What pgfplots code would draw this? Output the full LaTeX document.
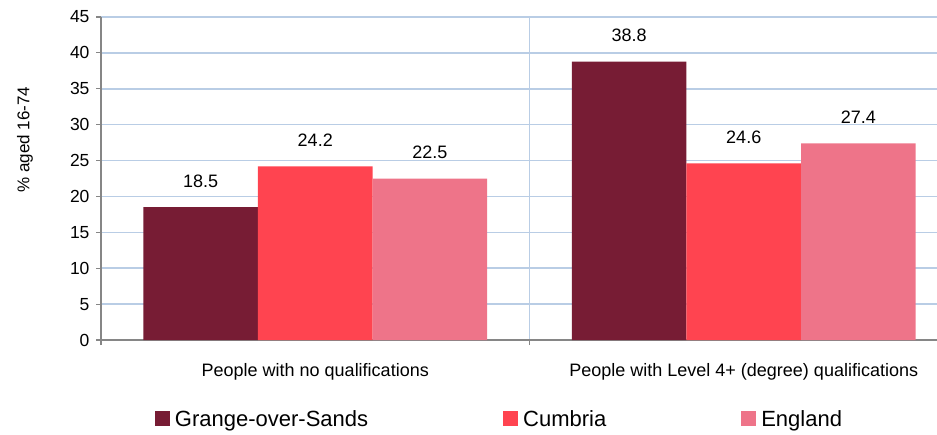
\documentclass[border=0pt]{standalone}
\usepackage{fontspec}
\setmainfont{Liberation Sans}
\usepackage{pgfplots}
\pgfplotsset{compat=1.18}
\definecolor{cGrange}{HTML}{771C34}
\definecolor{cCumbria}{HTML}{FF4450}
\definecolor{cEngland}{HTML}{EE7489}
\definecolor{gridc}{HTML}{B9CDE5}
\definecolor{axc}{HTML}{868686}
\begin{document}
\begin{tikzpicture}[x=1pt,y=1pt]
\path[use as bounding box, clip] (0,0) rectangle (937,434);
\begin{axis}[
  at={(101pt,94pt)}, anchor=south west,
  scale only axis, width=836pt, height=323pt,
  xmin=-0.5, xmax=1.451, ymin=0, ymax=45,
  ybar,
  axis x line*=bottom, axis y line*=left,
  ytick={0,5,...,45},
  xtick={-0.5,0.5,1.5}, xticklabels={},
  extra x ticks={0,1},
  extra x tick labels={People with no qualifications, People with Level 4+ (degree) qualifications},
  extra x tick style={major tick length=0pt, grid=none,
     tick label style={font=\fontsize{18}{21}\selectfont, anchor=base, yshift=-36pt}},
  ymajorgrids, xmajorgrids,
  grid style={gridc, line width=1.5pt},
  major tick length=5pt, tick align=outside,
  tick style={axc, line width=1.2pt},
  axis line style={axc, line width=1.5pt},
  /pgf/number format/assume math mode=true,
  yticklabel style={font=\fontsize{17.5}{20}\selectfont, xshift=-3pt},
  ylabel={\% aged  16-74},
  ylabel style={at={(axis description cs:-0.0909,0.62)}, anchor=center, font=\fontsize{17}{20}\selectfont},
  nodes near coords,
  every node near coord/.append style={font=\fontsize{18}{21}\selectfont, black, anchor=base, yshift=20pt,
     /pgf/number format/fixed, /pgf/number format/precision=1, /pgf/number format/fixed zerofill},
  legend columns=3,
  legend image code/.code={\fill[#1] (0pt,-7pt) rectangle (15pt,8pt); \path (18pt,0pt);},
  legend style={at={(axis description cs:0.4767,-0.246)}, anchor=center, draw=none, fill=none,
     font=\fontsize{22}{25}\selectfont, nodes={inner sep=2pt},
     /tikz/every even column/.append style={column sep=133pt}},
  legend cell align=left,
]
\addplot[fill=cGrange, draw=none, bar width=0.2675, bar shift=-0.2675] coordinates {(0,18.5) (1,38.8)};
\addplot[fill=cCumbria, draw=none, bar width=0.2675, bar shift=0] coordinates {(0,24.2) (1,24.6)};
\addplot[fill=cEngland, draw=none, bar width=0.2675, bar shift=0.2675] coordinates {(0,22.5) (1,27.4)};
\legend{Grange-over-Sands, Cumbria, England}
\end{axis}
\end{tikzpicture}
\end{document}
